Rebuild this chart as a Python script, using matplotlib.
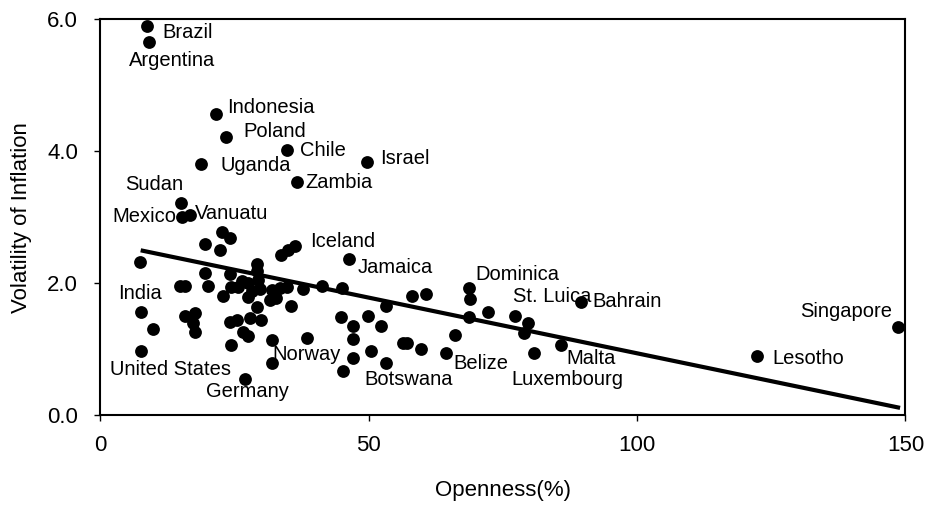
import matplotlib
matplotlib.use("Agg")
import matplotlib.pyplot as plt
import numpy as np

plt.rcParams['font.family'] = ['Liberation Sans', 'DejaVu Sans']

# Labelled countries
countries = ["Brazil", "Argentina", "Indonesia", "Poland", "Chile", "Israel", "Uganda",
             "Zambia", "Sudan", "Mexico", "Vanuatu", "Iceland", "Jamaica", "India",
             "United States", "Germany", "Norway", "Botswana", "Belize", "Dominica",
             "St. Luica", "Bahrain", "Malta", "Luxembourg", "Lesotho", "Singapore"]
country_openness = [8.6, 9.0, 21.5, 23.4, 34.8, 49.6, 18.7,
                    36.6, 15.1, 15.2, 16.7, 36.2, 46.3, 7.5,
                    7.5, 27.0, 45.2, 53.3, 64.3, 68.7,
                    77.2, 89.5, 85.9, 80.8, 122.3, 148.7]
country_volatility = [5.90, 5.65, 4.56, 4.22, 4.01, 3.84, 3.80,
                      3.53, 3.22, 3.01, 3.04, 2.56, 2.37, 1.57,
                      0.98, 0.55, 0.68, 0.80, 0.95, 1.93,
                      1.51, 1.72, 1.07, 0.95, 0.90, 1.34]

# Unlabelled countries
other_openness = [22.6, 24.1, 19.5, 22.3, 7.4, 9.8,
                  15.7, 17.6, 17.3, 17.6, 24.1, 25.4, 27.8, 30.0, 26.6, 27.5, 24.4, 31.9, 38.4, 31.9,
                  19.5, 20.1, 14.8, 15.7, 24.1, 22.9, 24.4, 26.3, 25.7, 27.5, 28.2, 29.1, 29.1,
                  29.4, 29.7, 27.5, 29.1, 31.9, 33.4, 34.7, 32.8, 31.6, 35.6, 37.8, 41.2, 35.0, 33.7,
                  45.1, 53.3, 58.0, 60.7, 68.9, 68.7, 72.2, 79.6, 78.9, 66.0, 59.8, 56.4, 57.1,
                  50.5, 52.2, 49.8, 47.0, 44.9, 47.0, 47.0]
other_volatility = [2.78, 2.69, 2.59, 2.50, 2.33, 1.31,
                    1.50, 1.55, 1.40, 1.27, 1.42, 1.44, 1.47, 1.44, 1.27, 1.20, 1.06, 1.14, 1.18, 0.79,
                    2.16, 1.96, 1.96, 1.96, 2.14, 1.81, 1.94, 2.03, 1.94, 2.01, 1.89, 2.30, 2.18,
                    2.05, 1.91, 1.80, 1.64, 1.90, 1.93, 1.94, 1.78, 1.75, 1.65, 1.91, 1.96, 2.51, 2.43,
                    1.93, 1.65, 1.81, 1.84, 1.76, 1.49, 1.57, 1.40, 1.25, 1.22, 1.01, 1.10, 1.09,
                    0.98, 1.36, 1.51, 1.36, 1.49, 1.15, 0.87]

# Fitted trend line
trend_x = [7.5, 149.0]
trend_intercept = 2.626
trend_slope = -0.01685

x_ticks = [0, 50, 100, 150]
y_ticks = [0.0, 2.0, 4.0, 6.0]

# label placement: (dx pixels, dy pixels, horizontal alignment)
label_offsets = {
    "Brazil": (16, -7, "left"), "Argentina": (23, -18, "center"),
    "Indonesia": (11, 7, "left"), "Poland": (17, 5, "left"), "Chile": (13, 0, "left"),
    "Israel": (13, 3, "left"), "Uganda": (20, -1, "left"), "Zambia": (9, 0, "left"),
    "Sudan": (-27, 18, "center"), "Mexico": (-6, 0, "right"), "Vanuatu": (5, 1, "left"),
    "Iceland": (15, 5, "left"), "Jamaica": (9, -9, "left"), "India": (-1, 18, "center"),
    "United States": (-31, -19, "left"), "Germany": (-39, -12, "left"),
    "Norway": (-2, 16, "right"), "Botswana": (-22, -17, "left"), "Belize": (8, -11, "left"),
    "Dominica": (6, 13, "left"), "St. Luica": (-2, 19, "left"), "Bahrain": (12, 0, "left"),
    "Malta": (5, -14, "left"), "Luxembourg": (-23, -27, "left"), "Lesotho": (16, -2, "left"),
    "Singapore": (-6, 15, "right"),
}

fig = plt.figure(figsize=(9.3, 5.09), dpi=100)
ax = fig.add_axes([0.108, 0.1837, 0.8656, 0.779])

ax.scatter(other_openness, other_volatility, s=85, color="black", zorder=3, linewidths=0)
ax.scatter(country_openness, country_volatility, s=85, color="black", zorder=3, linewidths=0)

tx = np.array(trend_x)
ax.plot(tx, trend_intercept + trend_slope * tx, color="black", lw=3.0, solid_capstyle="butt", zorder=2)

for name, x, y in zip(countries, country_openness, country_volatility):
    dx, dy, ha = label_offsets[name]
    ax.annotate(name, (x, y), xytext=(dx, dy), textcoords="offset pixels",
                ha=ha, va="center", fontsize=14.5, color="black")

ax.set_xlim(0, 150)
ax.set_ylim(0, 6)
ax.set_xticks(x_ticks)
ax.set_yticks(y_ticks)
ax.set_yticklabels([f"{v:.1f}" for v in y_ticks])
ax.tick_params(axis="both", direction="out", length=4, width=1, labelsize=16, color="black")
ax.tick_params(axis="x", pad=10)
ax.tick_params(axis="y", pad=12)
for sp in ax.spines.values():
    sp.set_linewidth(1.5)
    sp.set_color("black")

ax.set_xlabel("Openness(%)", fontsize=16)
ax.set_ylabel("Volatility of Inflation", fontsize=16)
ax.xaxis.set_label_coords(0.5, -0.162)
ax.yaxis.set_label_coords(-0.085, 0.5)

fig.savefig("out.png", dpi=100, facecolor="white")
